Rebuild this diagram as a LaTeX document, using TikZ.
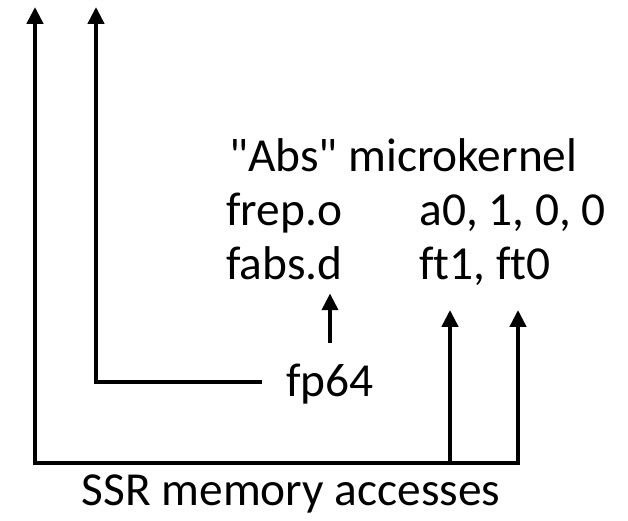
\documentclass[tikz,border=0pt]{standalone}
\usepackage{fontspec}
\setmainfont{Carlito}[Ligatures={NoCommon,TeXOff}]
\usetikzlibrary{positioning,arrows.meta,calc}

\begin{document}
\begin{tikzpicture}[lb/.style={font=\fontsize{33.7}{40}\selectfont,inner sep=0pt,anchor=base west},
  ln/.style={line width=2.8pt},
  arr/.style={ln,-{Triangle[width=0.4cm,length=0.42cm]}},
  arrs/.style={ln,{Triangle[width=0.4cm,length=0.42cm]}-{Triangle[width=0.4cm,length=0.42cm]}}]
\useasboundingbox (0,0) rectangle (15.7,13.025);
% kernel listing
\node[lb] (title) at (5.72,8.725) {"Abs" microkernel};
\node[lb] (frep) at (5.65,7.375) {frep.o};
\node[lb] (frepargs) at (10.48,7.375) {a0, 1, 0, 0};
\node[lb] (fabs) at (5.65,6.025) {fabs.d};
\node[lb] (fabsargs) at (10.48,6.025) {ft1, ft0};
\node[lb] (fp64) at (7.15,3.1) {fp64};
\node[lb, anchor=base] (ssr) at (7.275,0.375) {SSR memory accesses};
% fp64 path
\coordinate (bend) at (2.4,3.475);
\draw[arr] ([xshift=-6mm]fp64.west |- bend) -- (bend) -- ++(0,9.375);
\coordinate (dfoot) at (8.25,4.45);
\draw[arr, shorten >=3.2mm] (dfoot) -- (dfoot |- fabs.south);
% SSR bus
\coordinate (busL) at (0.875,1.45);
\coordinate (busR) at (12.95,1.45);
\coordinate (tap) at (11.25,1.45);
\draw[arrs] ($(busL)+(0,11.4)$) -- (busL) -- (busR) -- ++(0,3.825);
\draw[arr] (tap) -- ++(0,3.825);
\end{tikzpicture}
\end{document}
